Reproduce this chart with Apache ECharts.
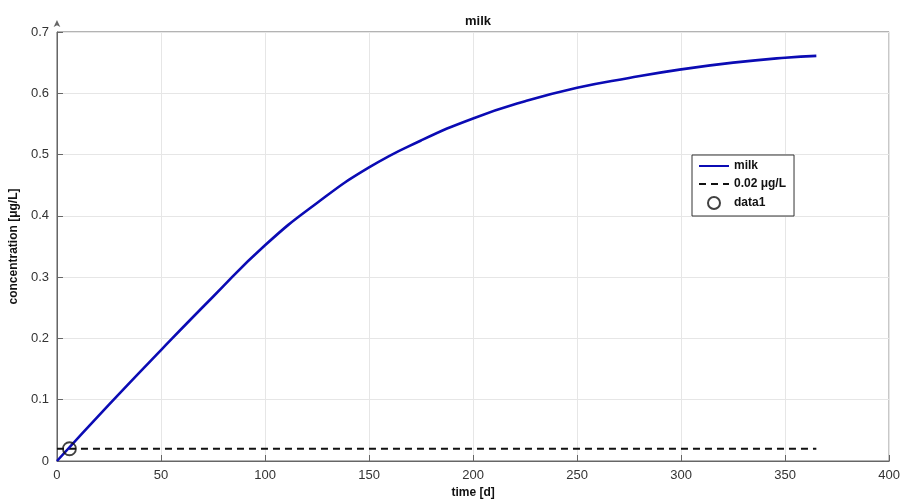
<!DOCTYPE html>
<html>
<head>
<meta charset="utf-8">
<script src="https://cdn.jsdelivr.net/npm/echarts@6/dist/echarts.min.js"></script>
<style>
html,body{margin:0;padding:0;background:#fff;}
#chart{width:903px;height:504px;}
</style>
</head>
<body>
<div id="chart"></div>
<script>
// milk concentration curve
var days = [0, 25, 50, 75, 100, 125, 150, 175, 200, 225, 250, 275, 300, 325, 350, 365];
var milk = [0, 0.092, 0.181, 0.268, 0.352, 0.421, 0.479, 0.523, 0.559, 0.587, 0.609, 0.625, 0.639, 0.650, 0.658, 0.661];
var limitDays = [0, 365];
var limitValue = 0.02;
var pointDay = [6];
var pointValue = [0.02];
var xTicks = [0, 50, 100, 150, 200, 250, 300, 350, 400];
var yTicks = [0, 0.1, 0.2, 0.3, 0.4, 0.5, 0.6, 0.7];

window.onload = init;
function init(){
    var chart = echarts.init(document.getElementById('chart'));
    var font = 'Liberation Sans, Arial, sans-serif';
    var option = {
        animation: false,
        backgroundColor: '#fff',
        textStyle: {fontFamily: font},
        title: {
            text: 'milk',
            left: 473, top: 10, textAlign: 'center',
            textStyle: {fontSize: 13, fontWeight: 'bold', color: '#111', fontFamily: font}
        },
        legend: {
            orient: 'vertical',
            left: 692, top: 155,
            padding: [5, 8, 6, 6],
            itemGap: 6,
            itemWidth: 30, itemHeight: 12,
            backgroundColor: '#fff',
            borderColor: '#333', borderWidth: 1,
            textStyle: {fontSize: 12, fontWeight: 'bold', color: '#111', fontFamily: font},
            data: [
                {name: 'milk', itemStyle: {opacity: 0}},
                {name: '0.02 μg/L', itemStyle: {opacity: 0}},
                {name: 'data1'}
            ]
        },
        grid: {
            left: 55, right: 11, top: 32, bottom: 41,
            show: true, borderColor: '#666', borderWidth: 1
        },
        xAxis: {
            type: 'value',
            min: xTicks[0], max: xTicks[xTicks.length - 1], interval: 50,
            name: 'time [d]', nameLocation: 'middle', nameGap: 26,
            nameTextStyle: {fontSize: 12, fontWeight: 'bold', color: '#111'},
            axisLine: {lineStyle: {color: '#666'}},
            axisTick: {inside: true, length: 6, lineStyle: {color: '#666'}},
            axisLabel: {fontSize: 13, color: '#333', margin: 8},
            splitLine: {lineStyle: {color: '#e6e6e6'}}
        },
        yAxis: {
            type: 'value',
            min: yTicks[0], max: yTicks[yTicks.length - 1], interval: 0.1,
            name: 'concentration [μg/L]', nameLocation: 'middle', nameGap: 32,
            nameTextStyle: {fontSize: 12, fontWeight: 'bold', color: '#111'},
            axisLine: {show: true, lineStyle: {color: '#666'}, symbol: ['none', 'arrow'], symbolSize: [5, 7], symbolOffset: [0, 12]},
            axisTick: {show: true, inside: true, length: 6, lineStyle: {color: '#666'}},
            axisLabel: {fontSize: 13, color: '#333', margin: 8},
            splitLine: {lineStyle: {color: '#e6e6e6'}}
        },
        series: [
            {
                name: 'milk', type: 'line', smooth: 0.5, symbol: 'none',
                color: '#0b0bb4',
                lineStyle: {width: 2.6, color: '#0b0bb4'},
                data: days.map(function(d, i){ return [d, milk[i]]; }),
                z: 3
            },
            {
                name: '0.02 μg/L', type: 'line', symbol: 'none',
                color: '#111',
                lineStyle: {width: 1.8, type: [7, 5], color: '#111'},
                data: limitDays.map(function(d){ return [d, limitValue]; }),
                z: 2
            },
            {
                name: 'data1', type: 'scatter', symbol: 'circle', symbolSize: 13,
                itemStyle: {color: 'rgba(255,255,255,0)', borderColor: '#111', borderWidth: 1.8},
                data: pointDay.map(function(d, i){ return [d, pointValue[i]]; }),
                z: 4
            }
        ]
    };
    chart.setOption(option);
}
</script>
</body>
</html>
